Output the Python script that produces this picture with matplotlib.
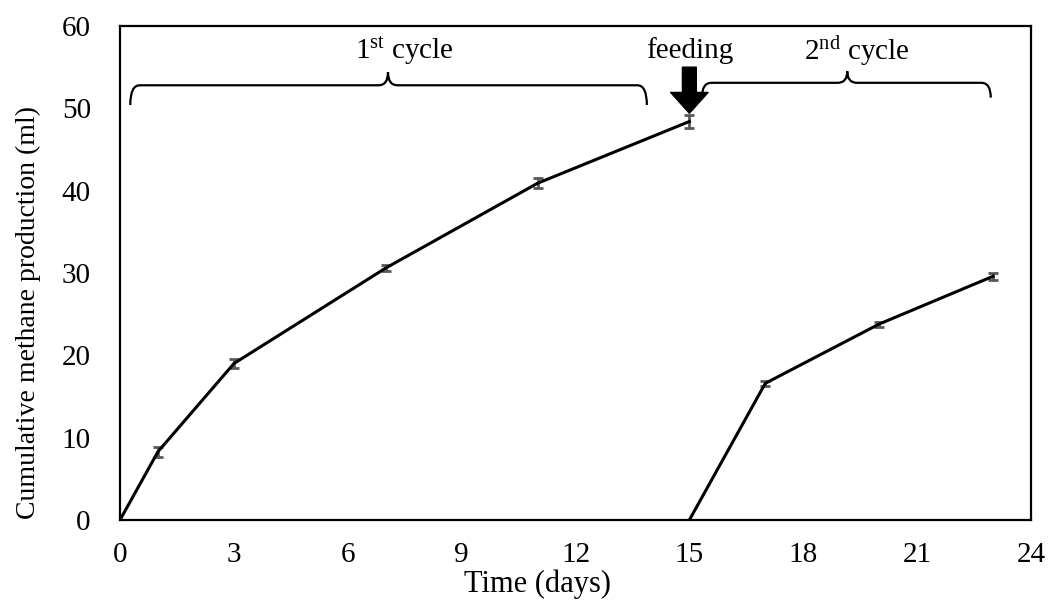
import matplotlib
matplotlib.use("Agg")
import matplotlib.pyplot as plt
from matplotlib.path import Path
from matplotlib.patches import PathPatch

plt.rcParams['font.family'] = ['Liberation Serif', 'DejaVu Serif']
plt.rcParams['mathtext.fontset'] = 'custom'
plt.rcParams['mathtext.rm'] = 'Liberation Serif'
plt.rcParams['mathtext.it'] = 'Liberation Serif:italic'

# data
cycle1_days = [0, 1, 3, 7, 11, 15]
cycle1_methane = [0, 8.3, 19.0, 30.6, 40.9, 48.4]
cycle1_err = [0, 0.6, 0.5, 0.4, 0.6, 0.8]
cycle2_days = [15, 17, 20, 23]
cycle2_methane = [0, 16.6, 23.8, 29.6]
cycle2_err = [0, 0.3, 0.3, 0.4]
xticks = [0, 3, 6, 9, 12, 15, 18, 21, 24]
yticks = [0, 10, 20, 30, 40, 50, 60]

fig = plt.figure(figsize=(10.51, 6.01), dpi=100)
ax = fig.add_axes([120/1051, 1-520/601, 911/1051, 494/601])

for xs, ys, es in [(cycle1_days, cycle1_methane, cycle1_err),
                   (cycle2_days, cycle2_methane, cycle2_err)]:
    ax.plot(xs, ys, color='black', lw=2.2, zorder=3)
    ax.errorbar(xs[1:], ys[1:], yerr=es[1:], fmt='none', ecolor='#595959',
                elinewidth=2.0, capsize=3.5, capthick=2.0, zorder=2)

ax.set_xlim(0, 24)
ax.set_ylim(0, 60)
ax.set_xticks(xticks)
ax.set_yticks(yticks)
ax.tick_params(length=0, labelsize=21)
ax.tick_params(axis='y', pad=21)
ax.tick_params(axis='x', pad=16)
for s in ax.spines.values():
    s.set_linewidth(1.6)

ax.set_xlabel('Time (days)', fontsize=22)
ax.set_ylabel('Cumulative methane production (ml)', fontsize=20)
ax.xaxis.set_label_coords(0.458, -0.1)
ax.yaxis.set_label_coords(-0.087, 0.42)


def brace(ax, x0, x1, xm, y, drop, tip, r):
    verts = [(x0, y - drop), (x0, y), (x0 + r, y),
             (xm - r, y), (xm, y), (xm, y + tip),
             (xm, y), (xm + r, y),
             (x1 - r, y), (x1, y), (x1, y - drop)]
    codes = [Path.MOVETO, Path.CURVE3, Path.CURVE3,
             Path.LINETO, Path.CURVE3, Path.CURVE3,
             Path.CURVE3, Path.CURVE3,
             Path.LINETO, Path.CURVE3, Path.CURVE3]
    ax.add_patch(PathPatch(Path(verts, codes), fill=False, lw=1.6,
                           edgecolor='black', clip_on=False))


brace(ax, 0.27, 13.88, 7.06, 52.8, 2.4, 1.6, 0.25)
brace(ax, 15.33, 22.94, 19.16, 53.1, 1.8, 1.4, 0.25)

ax.text(7.5, 57.0, r'1$^{\mathrm{st}}$ cycle', ha='center', va='center', fontsize=21)
ax.text(19.4, 57.0, r'2$^{\mathrm{nd}}$ cycle', ha='center', va='center', fontsize=21)
ax.text(15.0, 57.0, 'feeding', ha='center', va='center', fontsize=21)

ax.annotate('', xy=(15.0, 49.4), xytext=(15.0, 55.0),
            arrowprops=dict(arrowstyle='simple,head_length=0.75,head_width=1.35,tail_width=0.5',
                            color='black', mutation_scale=20, shrinkA=0, shrinkB=0))

fig.savefig('out.png', dpi=100)
